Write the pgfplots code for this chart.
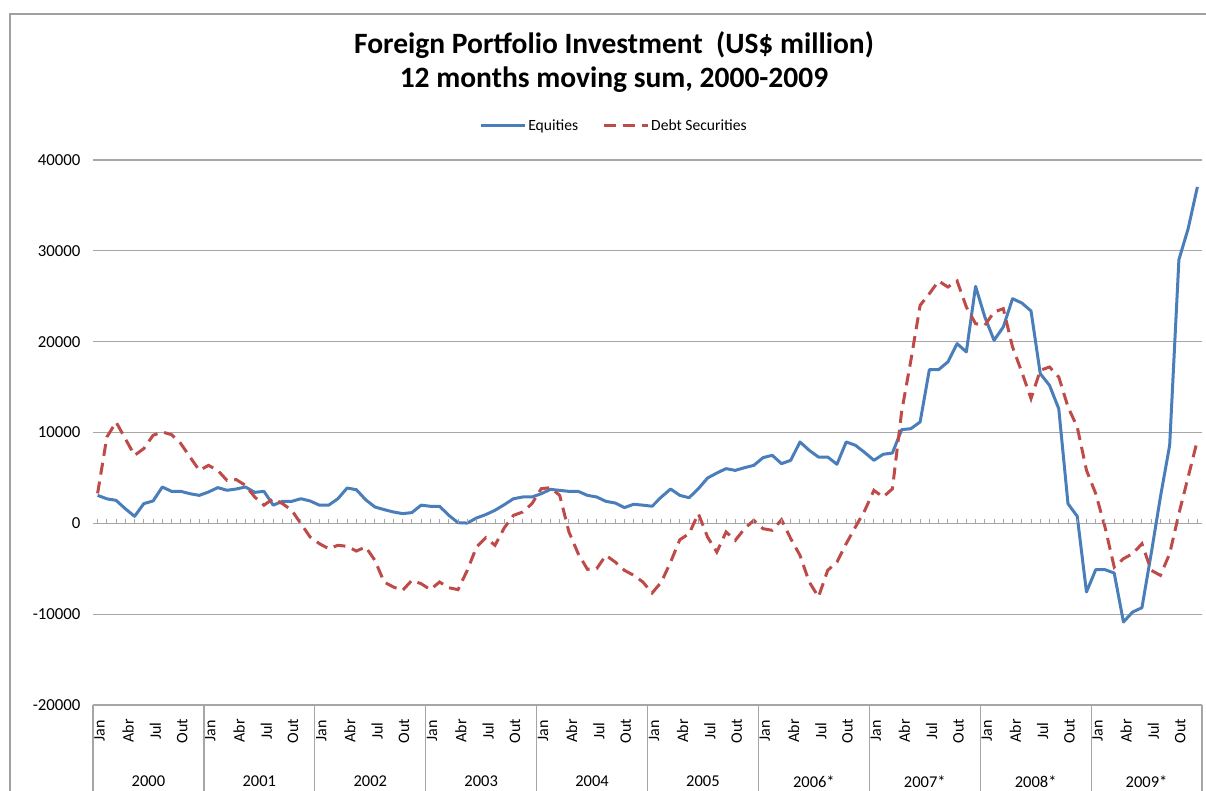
\documentclass[border=0pt]{standalone}
\usepackage{fontspec}
\setmainfont{Carlito}
\usepackage{pgfplots}
\pgfplotsset{compat=1.18}
\usepackage{pgfplotstable}

\definecolor{eqblue}{RGB}{74,126,187}
\definecolor{debtred}{RGB}{190,75,72}
\definecolor{gridgray}{RGB}{166,166,166}
\definecolor{framegray}{RGB}{160,160,160}

\pgfplotstableread{
i eq debt
0 3080 3300
1 2700 9500
2 2530 11150
3 1600 9300
4 770 7490
5 2170 8230
6 2460 9690
7 4000 10060
8 3520 9760
9 3520 8780
10 3260 7300
11 3080 5830
12 3450 6380
13 3930 5830
14 3640 4730
15 3780 4810
16 4000 4180
17 3410 2900
18 3520 2000
19 2000 2710
20 2420 2170
21 2420 1440
22 2710 -40
23 2460 -1510
24 2000 -2240
25 2000 -2790
26 2710 -2420
27 3890 -2530
28 3700 -3050
29 2600 -2600
30 1800 -4070
31 1510 -6460
32 1250 -7010
33 1070 -7380
34 1180 -6280
35 2000 -6640
36 1880 -7300
37 1880 -6460
38 880 -7090
39 70 -7300
40 30 -5170
41 590 -2600
42 960 -1580
43 1440 -2420
44 2050 -500
45 2710 880
46 2900 1250
47 2900 2170
48 3260 3810
49 3740 3930
50 3630 3080
51 3520 -950
52 3520 -3340
53 3080 -5060
54 2900 -4990
55 2420 -3520
56 2240 -4260
57 1730 -5170
58 2100 -5720
59 2000 -6460
60 1880 -7670
61 2900 -6460
62 3780 -4260
63 3080 -1800
64 2820 -1140
65 3810 1070
66 4990 -1510
67 5540 -3160
68 6020 -950
69 5830 -1870
70 6130 -590
71 6380 330
72 7230 -590
73 7490 -770
74 6570 400
75 6940 -1690
76 8960 -3520
77 8040 -6460
78 7300 -8100
79 7300 -5170
80 6500 -4260
81 8960 -2240
82 8590 -400
83 7800 1400
84 6940 3630
85 7600 2900
86 7740 3800
87 10310 12300
88 10420 17950
89 11160 24000
90 16920 25290
91 16920 26680
92 17770 26020
93 19780 26680
94 18870 23820
95 26090 21980
96 22720 21800
97 20150 23270
98 21620 23630
99 24730 19410
100 24260 16660
101 23380 13730
102 16480 16850
103 15190 17210
104 12620 16110
105 2160 12810
106 770 10600
107 -7560 5840
108 -5100 3270
109 -5100 -400
110 -5470 -4810
111 -10860 -3890
112 -9760 -3340
113 -9290 -2240
114 -3340 -5170
115 2900 -5730
116 8590 -3340
117 29030 1070
118 32440 5100
119 37030 9140
}\datatable

\begin{document}
\begin{tikzpicture}
\path[use as bounding box] (0bp,0bp) rectangle (1206bp,791bp);
\draw[framegray, line width=1.3bp] (10bp,0bp) -- (10bp,777bp) -- (1206bp,777bp);
\node[anchor=base, font=\fontsize{29.5bp}{34bp}\selectfont\bfseries] at (614bp,737.5bp) {Foreign Portfolio Investment\ \ (US\$ million)};
\node[anchor=base, font=\fontsize{29.5bp}{34bp}\selectfont\bfseries] at (614bp,703bp) {12 months moving sum, 2000-2009};
\begin{axis}[
  at={(93bp,86bp)}, anchor=south west,
  scale only axis, width=1109bp, height=545bp,
  xmin=-0.5, xmax=119.5, ymin=-20000, ymax=40000,
  ytick={-20000,-10000,0,10000,20000,30000,40000},
  xtick={0.2,3.3,6.25,9.15,12.2,15.3,18.25,21.15,24.2,27.3,30.25,33.15,36.2,39.3,42.25,45.15,48.2,51.3,54.25,57.15,60.2,63.3,66.25,69.15,72.2,75.3,78.25,81.15,84.2,87.3,90.25,93.15,96.2,99.3,102.25,105.15,108.2,111.3,114.25,117.15},
  xticklabels={Jan,Abr,Jul,Out,Jan,Abr,Jul,Out,Jan,Abr,Jul,Out,Jan,Abr,Jul,Out,Jan,Abr,Jul,Out,Jan,Abr,Jul,Out,Jan,Abr,Jul,Out,Jan,Abr,Jul,Out,Jan,Abr,Jul,Out,Jan,Abr,Jul,Out},
  xticklabel style={font=\fontsize{16bp}{19bp}\selectfont, yshift=-26bp, rotate=90, anchor=center},
  yticklabel style={font=\fontsize{16.8bp}{20bp}\selectfont, xshift=-9bp},
  /pgf/number format/assume math mode=true,
  /pgf/number format/1000 sep={},
  scaled y ticks=false,
  ymajorgrids,
  major grid style={gridgray, line width=1.2bp},
  axis line style={draw=none},
  major tick length=0pt,
  clip=false,
  legend columns=2,
  legend style={at={(0.4698,1.0624)}, anchor=center, draw=none, fill=none,
    font=\fontsize{15.6bp}{18bp}\selectfont,
    /tikz/every even column/.append style={column sep=22bp}},
  legend image code/.code={\draw[#1] (0bp,0bp) -- (44bp,0bp);},
]
\addplot[eqblue, line width=3bp, line join=round] table[x=i, y=eq] {\datatable};
\addlegendentry{Equities}
\addplot[debtred, line width=3bp, dash pattern=on 12bp off 7bp] table[x=i, y=debt] {\datatable};
\addlegendentry{Debt Securities}
\pgfplotsinvokeforeach{0,...,119}{\draw[gridgray, line width=1bp] (axis cs:#1,0) -- ++(0bp,4bp);}
\pgfplotsinvokeforeach{-0.5,11.5,23.5,35.5,47.5,59.5,71.5,83.5,95.5,107.5,119.5}{\draw[gridgray, line width=1.2bp] (axis cs:#1,-20000) -- ++(0bp,-90bp);}
\node[font=\fontsize{16.5bp}{19bp}\selectfont, yshift=-76.5bp] at (axis cs:5.5,-20000) {2000};
\node[font=\fontsize{16.5bp}{19bp}\selectfont, yshift=-76.5bp] at (axis cs:17.5,-20000) {2001};
\node[font=\fontsize{16.5bp}{19bp}\selectfont, yshift=-76.5bp] at (axis cs:29.5,-20000) {2002};
\node[font=\fontsize{16.5bp}{19bp}\selectfont, yshift=-76.5bp] at (axis cs:41.5,-20000) {2003};
\node[font=\fontsize{16.5bp}{19bp}\selectfont, yshift=-76.5bp] at (axis cs:53.5,-20000) {2004};
\node[font=\fontsize{16.5bp}{19bp}\selectfont, yshift=-76.5bp] at (axis cs:65.5,-20000) {2005};
\node[font=\fontsize{16.5bp}{19bp}\selectfont, yshift=-76.5bp] at (axis cs:77.5,-20000) {2006*};
\node[font=\fontsize{16.5bp}{19bp}\selectfont, yshift=-76.5bp] at (axis cs:89.5,-20000) {2007*};
\node[font=\fontsize{16.5bp}{19bp}\selectfont, yshift=-76.5bp] at (axis cs:101.5,-20000) {2008*};
\node[font=\fontsize{16.5bp}{19bp}\selectfont, yshift=-76.5bp] at (axis cs:113.5,-20000) {2009*};
\end{axis}
\end{tikzpicture}
\end{document}
